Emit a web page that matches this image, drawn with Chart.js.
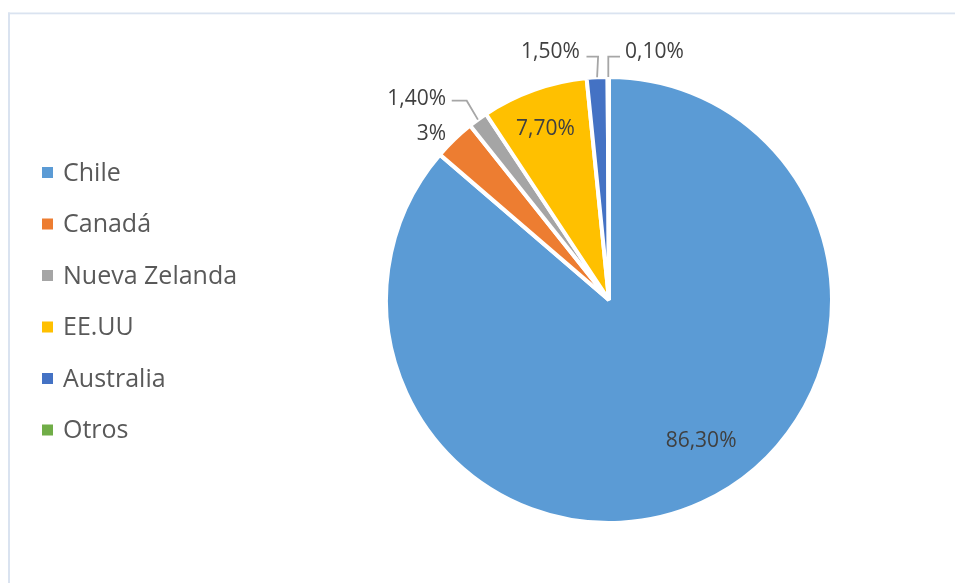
<!DOCTYPE html>
<html>
<head>
<meta charset="utf-8">
<script src="https://cdn.jsdelivr.net/npm/chart.js@4.4.1/dist/chart.umd.min.js"></script>
<style>
  html, body { margin: 0; padding: 0; background: #fff; }
  canvas { display: block; }
</style>
</head>
<body>
<canvas id="origen" width="955" height="583"></canvas>
<script>
// Participación por país de origen (%)
const paises = ['Chile', 'Canadá', 'Nueva Zelanda', 'EE.UU', 'Australia', 'Otros'];
const porcentajes = [86.3, 3, 1.4, 7.7, 1.5, 0.1];
const colores = ['#5B9BD5', '#ED7D31', '#A5A5A5', '#FFC000', '#4472C4', '#70AD47'];

// dónde va cada etiqueta: dentro/fuera del sector o con línea guía
const ubicacion = [
    { r: 0.76, dx: 22, dy: -13 },
    { r: 1.10, dx: -9, dy: 8 },
    { guia: [-11.2, -18.9, -15], lado: 'right', sep: 5.7, sube: 3.5 },
    { r: 0.83, dx: -2, dy: 0 },
    { guia: [1, -20.6, -11.6], lado: 'right', sep: 6.7, sube: 6 },
    { guia: [0, -20.3, 11.7], lado: 'left', sep: 5, sube: 6 }
];

const fuente = "'Open Sans', sans-serif";

function formato(v) {
    return (Number.isInteger(v) ? String(v) : v.toFixed(2).replace('.', ',')) + '%';
}

const etiquetas = {
    id: 'etiquetas',
    beforeDraw(chart) {
        const ctx = chart.ctx;
        ctx.save();
        ctx.fillStyle = '#fff';
        ctx.fillRect(0, 0, chart.width, chart.height);
        // marco del gráfico
        ctx.fillStyle = '#dae3f0';
        ctx.fillRect(8, 12.5, 2, chart.height);
        ctx.fillRect(8, 12.5, chart.width, 1.8);
        ctx.restore();
    },
    afterDraw(chart) {
        const ctx = chart.ctx;
        const arcs = chart.getDatasetMeta(0).data;
        ctx.save();

        // valores
        ctx.font = '21px ' + fuente;
        ctx.fillStyle = '#404040';
        ctx.textBaseline = 'alphabetic';
        arcs.forEach((arc, i) => {
            const u = ubicacion[i];
            const R = arc.outerRadius - 2;
            const a = (arc.startAngle + arc.endAngle) / 2;
            const texto = formato(porcentajes[i]);
            if (u.guia) {
                const x0 = arc.x + Math.cos(a) * (R + 2);
                const y0 = arc.y + Math.sin(a) * (R + 2);
                const x1 = x0 + u.guia[0], y1 = y0 + u.guia[1];
                const x2 = x1 + u.guia[2];
                ctx.strokeStyle = '#a6a6a6';
                ctx.lineWidth = 1.8;
                ctx.beginPath();
                ctx.moveTo(x0, y0);
                ctx.lineTo(x1, y1);
                ctx.lineTo(x2, y1);
                ctx.stroke();
                ctx.textAlign = u.lado;
                const tx = u.lado === 'right' ? x2 - u.sep : x2 + u.sep;
                ctx.fillText(texto, tx, y1 - u.sube + 7.5);
            } else {
                const x = arc.x + Math.cos(a) * R * u.r + u.dx;
                const y = arc.y + Math.sin(a) * R * u.r + u.dy;
                ctx.textAlign = 'center';
                ctx.fillText(texto, x, y + 7.5);
            }
        });

        // leyenda
        ctx.font = '25px ' + fuente;
        ctx.textAlign = 'left';
        paises.forEach((p, i) => {
            const cy = 172.5 + i * 51.5;
            ctx.fillStyle = colores[i];
            ctx.fillRect(42, cy - 5.5, 11, 11);
            ctx.fillStyle = '#595959';
            ctx.fillText(p, 63, cy + 8);
        });
        ctx.restore();
    }
};

new Chart(document.getElementById('origen'), {
    type: 'pie',
    data: {
        labels: paises,
        datasets: [{
            data: porcentajes,
            backgroundColor: colores,
            borderColor: '#ffffff',
            borderWidth: 4
        }]
    },
    options: {
        responsive: false,
        animation: false,
        radius: 223,
        layout: { padding: { left: 263, right: 0, top: 17, bottom: 0 } },
        plugins: {
            legend: { display: false },
            tooltip: { enabled: false }
        }
    },
    plugins: [etiquetas]
});
</script>
</body>
</html>
